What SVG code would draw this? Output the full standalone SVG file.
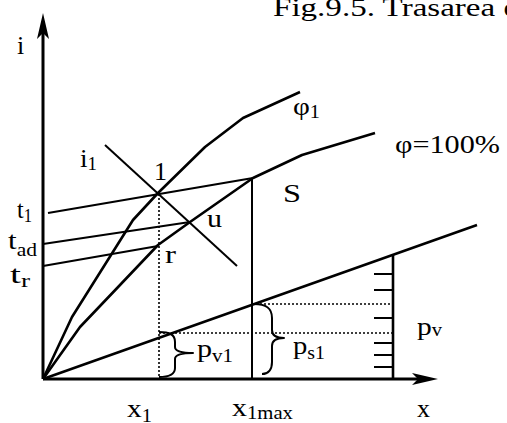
<svg xmlns="http://www.w3.org/2000/svg" width="507" height="423" viewBox="0 0 507 423">
<style>
text{font-family:"Liberation Serif","Times New Roman",serif;font-size:26px;fill:#000}
.sub{font-size:18px}
.ln{fill:none;stroke:#000;stroke-width:2;stroke-linecap:butt;stroke-linejoin:round}
.thick{stroke-width:2.6}
.ax{stroke-width:3}
.dot{fill:none;stroke:#000;stroke-width:1.6;stroke-dasharray:2 2}
.ah{fill:#000;stroke:none}
</style>
<rect width="507" height="423" fill="#fff"/>
<text id="title" x="273" y="16" font-size="22" textLength="247" lengthAdjust="spacingAndGlyphs">Fig.9.5. Trasarea d</text>
<g id="connectors">
  <line class="ln ax" x1="43" y1="379" x2="43" y2="28"/>
  <polygon class="ah" points="43,13 49,39 43,33 37,39"/>
  <line class="ln ax" x1="43" y1="379" x2="424" y2="379"/>
  <polygon class="ah" points="438,379 412,373 418,379 412,385"/>
  <polyline class="ln thick" points="43,379 72,317 133,220 158,193 205,147 243,118 300,92"/>
  <polyline class="ln thick" points="43,379 80,327 120,285 158,245 190,222 253,178 302,155 375,133"/>
  <line class="ln" x1="105" y1="145" x2="237" y2="266"/>
  <line class="ln" x1="48" y1="213" x2="253" y2="178"/>
  <line class="ln" x1="43" y1="244" x2="190" y2="222"/>
  <line class="ln" x1="43" y1="266" x2="158" y2="246"/>
  <line class="dot" x1="159" y1="194" x2="159" y2="379"/>
  <line class="ln" x1="252" y1="178" x2="252" y2="379"/>
  <line class="ln thick" x1="43" y1="379" x2="477" y2="225"/>
  <line class="dot" x1="252" y1="304" x2="393" y2="304"/>
  <line class="dot" x1="159" y1="333" x2="393" y2="333"/>
  <line class="ln thick" x1="393" y1="254" x2="393" y2="379"/>
  <path class="ln" d="M374,274H393M374,290H393M374,318H393M374,343H393M374,355H393M374,367H393"/>
  <path class="ln" d="M159,332 C169,332 175,334 175,342 L175,347 C175,351 180,353 193,353 C180,353 175,355 175,359 L175,368 C175,375 169,377 159,377"/>
  <path class="ln" d="M254,304 C266,304 272,308 272,318 L272,330 C272,335 276,338 284,338 C276,338 272,341 272,346 L272,362 C272,370 268,374 262,374"/>
</g>
<g id="label-i"><text x="17" y="54" font-size="29">i</text></g>
<g id="label-phi1"><text x="293" y="115" textLength="27" lengthAdjust="spacingAndGlyphs">φ<tspan class="sub" dy="3">1</tspan></text></g>
<g id="label-phi100"><text x="395" y="153" textLength="105" lengthAdjust="spacingAndGlyphs">φ=100%</text></g>
<g id="label-i1"><text x="80" y="167" textLength="17" lengthAdjust="spacingAndGlyphs">i<tspan class="sub" dy="3">1</tspan></text></g>
<g id="label-1"><text x="154" y="180" font-size="27">1</text></g>
<g id="label-S"><text x="283" y="202" textLength="18" lengthAdjust="spacingAndGlyphs">S</text></g>
<g id="label-u"><text x="207" y="227" textLength="15" lengthAdjust="spacingAndGlyphs">u</text></g>
<g id="label-r"><text x="165" y="263" textLength="11" lengthAdjust="spacingAndGlyphs">r</text></g>
<g id="label-t1"><text x="17" y="218" textLength="15" lengthAdjust="spacingAndGlyphs">t<tspan class="sub" dy="4">1</tspan></text></g>
<g id="label-tad"><text x="8" y="249" textLength="29" lengthAdjust="spacingAndGlyphs">t<tspan class="sub" dy="7">ad</tspan></text></g>
<g id="label-tr"><text x="10" y="283" textLength="20" lengthAdjust="spacingAndGlyphs">t<tspan class="sub" dy="4">r</tspan></text></g>
<g id="label-pv1"><text x="197" y="357" textLength="36" lengthAdjust="spacingAndGlyphs">p<tspan class="sub" dy="5">v1</tspan></text></g>
<g id="label-ps1"><text x="293" y="354" textLength="32" lengthAdjust="spacingAndGlyphs">p<tspan class="sub" dy="5">s1</tspan></text></g>
<g id="label-pv"><text x="417" y="335" textLength="25" lengthAdjust="spacingAndGlyphs">p<tspan class="sub" dy="1">v</tspan></text></g>
<g id="label-x1"><text x="127" y="417" textLength="25" lengthAdjust="spacingAndGlyphs">x<tspan class="sub" dy="5">1</tspan></text></g>
<g id="label-x1max"><text x="232" y="416" textLength="61" lengthAdjust="spacingAndGlyphs">x<tspan class="sub" dy="3">1max</tspan></text></g>
<g id="label-x"><text x="417" y="417" textLength="13" lengthAdjust="spacingAndGlyphs">x</text></g>
</svg>
